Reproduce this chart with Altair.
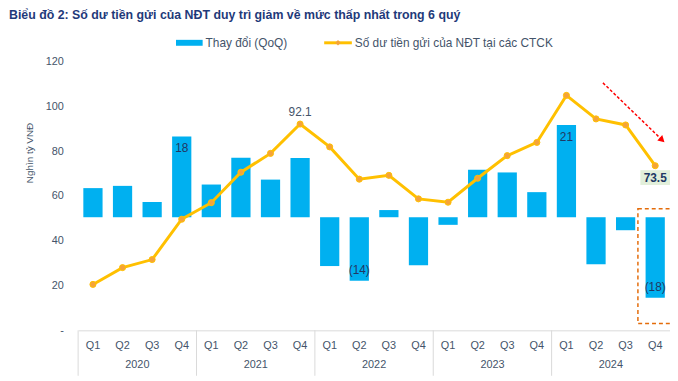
import altair as alt
import pandas as pd

years = ["2020", "2021", "2022", "2023", "2024"]
quarters = ["Q1", "Q2", "Q3", "Q4"]
qoq_change = [6.5, 7.0, 3.4, 18.0, 7.3, 13.3, 8.4, 13.2, -10.9, -14.2,
              1.6, -10.7, -1.7, 10.6, 10.0, 5.6, 20.6, -10.5, -2.9, -18.0]
deposit_balance = [20.5, 28.0, 31.6, 49.6, 57.0, 70.6, 79.0, 92.1, 81.9, 67.5,
                   69.2, 58.7, 57.2, 67.9, 78.0, 83.9, 104.9, 94.4, 91.7, 73.5]
bar_labels = ["", "", "", "18", "", "", "", "", "", "(14)",
              "", "", "", "", "", "", "21", "", "", "(18)"]
y_ticks = [0, 20, 40, 60, 80, 100, 120]
title_text = "Biểu đồ 2: Số dư tiền gửi của NĐT duy trì giảm về mức thấp nhất trong 6 quý"
legend_bar = "Thay đổi (QoQ)"
legend_line = "Số dư tiền gửi của NĐT tại các CTCK"
y_title = "Nghìn tỷ VNĐ"
peak_label = "92.1"
last_label = "73.5"

W, H = 599, 272
BASE = 50.5   # bar baseline on the left axis (hidden secondary axis zero)
K = 2.0       # left-axis units per unit of QoQ change

periods = [f"{q} {y}" for y in years for q in quarters]
df = pd.DataFrame({
    "period": periods,
    "quarter": [q for y in years for q in quarters],
    "year": [y for y in years for q in quarters],
    "change": qoq_change,
    "balance": deposit_balance,
    "label": bar_labels,
})
df["bar_top"] = BASE + K * df["change"]
df["bar_base"] = BASE

FONT = "Liberation Sans"
NAVY = "#44546A"
LBL = "#203864"

X = alt.X("period:N", sort=periods, title=None,
          scale=alt.Scale(paddingInner=0.35, paddingOuter=0.175),
          axis=alt.Axis(labelExpr="split(datum.value, ' ')[0]", labelAngle=0,
                        ticks=False, domainColor="#d9d9d9", domainWidth=1,
                        labelColor=NAVY, labelFontSize=11, labelFont=FONT,
                        labelPadding=9))

YAXIS = alt.Axis(values=y_ticks, labelExpr="datum.value == 0 ? '-' : datum.label",
                 grid=False, domain=False, ticks=False, labelPadding=15,
                 labelColor=NAVY, labelFontSize=11, labelFont=FONT,
                 title=y_title, titleX=-49, titleY=92, titleAngle=-90,
                 titleAlign="center", titleBaseline="middle",
                 titleFontSize=10, titleFontWeight="normal", titleColor=NAVY,
                 titleFont=FONT)
YSCALE = alt.Scale(domain=[0, 120], nice=False, zero=True)


def Y(field):
    return alt.Y(field, scale=YSCALE, axis=YAXIS)


base = alt.Chart(df)

bars = base.mark_bar(color="#00B0F0").encode(
    x=X, y=Y("bar_top:Q"), y2="bar_base:Q")

pos_lbl = base.transform_filter("datum.label != '' && datum.change > 0").mark_text(
    baseline="top", dy=7, fontSize=12, font=FONT, color=LBL).encode(
    x=X, y=Y("bar_top:Q"), text="label:N")
neg_lbl = base.transform_filter("datum.label != '' && datum.change < 0").mark_text(
    baseline="bottom", dy=-4, fontSize=12, font=FONT, color=LBL).encode(
    x=X, y=Y("bar_top:Q"), text="label:N")

line = base.mark_line(color="#FFC000", strokeWidth=3).encode(x=X, y=Y("balance:Q"))
pts = base.mark_point(filled=True, color="#F5A33A", size=38, opacity=1,
                      stroke="#FFC000", strokeWidth=1).encode(x=X, y=Y("balance:Q"))

peak = base.transform_filter(f"datum.period == '{periods[7]}'").mark_text(
    baseline="bottom", dy=-5, fontSize=12, font=FONT, color=NAVY).encode(
    x=X, y=Y("balance:Q"), text=alt.value(peak_label))

last_box = base.transform_filter(f"datum.period == '{periods[-1]}'").mark_point(
    shape="M-1,-0.5L1,-0.5L1,0.5L-1,0.5Z", size=900, filled=True,
    color="#E2EFDA", opacity=1, yOffset=12).encode(x=X, y=Y("balance:Q"))
last_txt = base.transform_filter(f"datum.period == '{periods[-1]}'").mark_text(
    baseline="middle", dy=12, fontSize=12, fontWeight="bold", font=FONT,
    color=LBL).encode(x=X, y=Y("balance:Q"), text=alt.value(last_label))

# dashed highlight box around the last quarter
box_df = pd.DataFrame({"period": [periods[-1]], "lo": [3.0], "hi": [54.3]})
hbox = alt.Chart(box_df).mark_bar(width=35, fill=None, stroke="#E46C0A",
                                  strokeWidth=1.5, strokeDash=[4, 3]).encode(
    x=X, y=Y("hi:Q"), y2="lo:Q")

# red dashed trend arrow
arrow_df = pd.DataFrame({"period": [periods[-3], periods[-1]], "v": [110.5, 85.0]})
arrow_line = alt.Chart(arrow_df).mark_line(color="#FF0000", strokeWidth=1.5,
                                           strokeDash=[3, 2], xOffset=7).encode(
    x=X, y=Y("v:Q"))
arrow_head = alt.Chart(arrow_df.iloc[[1]]).mark_point(
    shape="triangle-up", filled=True, color="#FF0000", size=55, opacity=1,
    angle=133, xOffset=7).encode(x=X, y=Y("v:Q"))

# year labels and separators under the axis
years_df = df[df["quarter"] == "Q2"]
year_txt = alt.Chart(years_df).mark_text(xOffset=15, fontSize=11, font=FONT,
                                         color=NAVY).encode(
    x=X, y=alt.value(H + 35), text="year:N")
sep_df = df[df["quarter"] == "Q1"]
seps = alt.Chart(sep_df).mark_rule(xOffset=-15, color="#d9d9d9").encode(
    x=X, y=alt.value(H), y2=alt.value(H + 46))

# title and legend
one = pd.DataFrame({"k": [0]})
title = alt.Chart(one).mark_text(align="left", baseline="middle", fontSize=12.5,
                                 fontWeight="bold", font=FONT,
                                 color="#1F3A7A").encode(
    x=alt.value(-70), y=alt.value(-47), text=alt.value(title_text))
leg_rect = alt.Chart(one).mark_rect(color="#00B0F0").encode(
    x=alt.value(99), x2=alt.value(126), y=alt.value(-22), y2=alt.value(-16))
leg_t1 = alt.Chart(one).mark_text(align="left", baseline="middle", fontSize=12,
                                  font=FONT, color=NAVY).encode(
    x=alt.value(129), y=alt.value(-19), text=alt.value(legend_bar))
leg_line = alt.Chart(one).mark_rule(color="#FFC000", strokeWidth=3).encode(
    x=alt.value(249), x2=alt.value(277), y=alt.value(-19))
leg_pt = alt.Chart(one).mark_point(shape="diamond", filled=True, color="#F5A33A",
                                   size=30, opacity=1).encode(
    x=alt.value(263), y=alt.value(-19))
leg_t2 = alt.Chart(one).mark_text(align="left", baseline="middle", fontSize=12,
                                  font=FONT, color=NAVY).encode(
    x=alt.value(280), y=alt.value(-19), text=alt.value(legend_line))

chart = alt.layer(
    bars, pos_lbl, neg_lbl, hbox, line, pts, peak, last_box, last_txt,
    arrow_line, arrow_head, year_txt, seps,
    title, leg_rect, leg_t1, leg_line, leg_pt, leg_t2,
).properties(
    width=W, height=H,
    padding={"left": 71, "top": 52, "right": 0, "bottom": 44},
    autosize=alt.AutoSizeParams(type="none"),
    background="white",
).configure_view(stroke=None)

chart.save("out.html", embed_options={"renderer": "svg", "actions": False})
